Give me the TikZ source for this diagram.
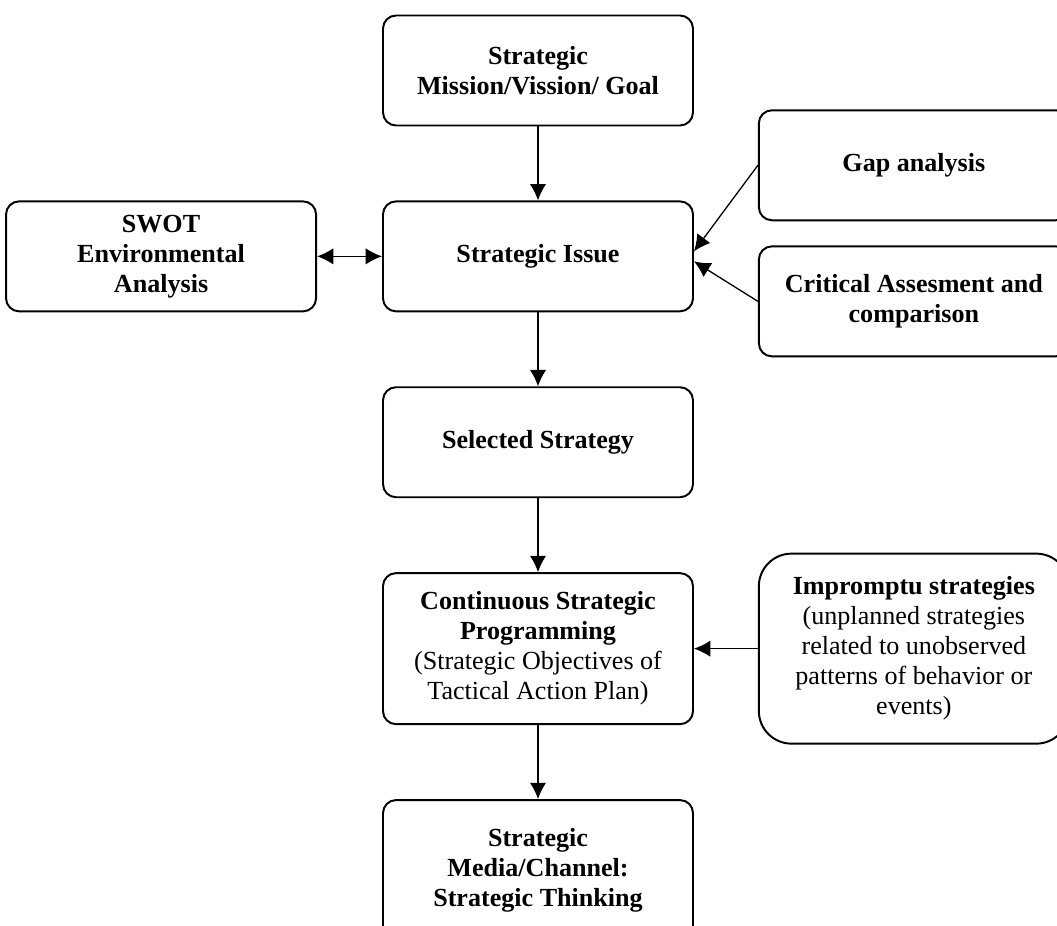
\documentclass[tikz,border=0pt]{standalone}
\usepackage{fontspec}
\setmainfont{Liberation Serif}
\usepackage{tikz}
\usetikzlibrary{arrows.meta,positioning}
\tikzset{
    block/.style = {draw, rectangle, rounded corners=6pt, line width=0.9pt, align=center, font=\fontsize{12}{13.8}\selectfont\bfseries, minimum width=142.6pt, minimum height=50.6pt},
    softblock/.style = {block, rounded corners=15pt, font=\fontsize{12}{13.8}\selectfont},
    arrow/.style = {draw, line width=0.6pt, -{Latex[length=7.5pt,width=7.5pt]}},
}

\begin{document}
\begin{tikzpicture}[x=0.46pt, y=0.46pt, node distance=34pt]
    \useasboundingbox (0,0) rectangle (1057,-926);
    \node [block] (mission) at (538,-70.5) {Strategic\\Mission/Vission/ Goal};
    \node [block, below=of mission] (issue) {Strategic Issue};
    \node [block, below=of issue] (selected) {Selected Strategy};
    \node [block, below=of selected, minimum height=69.5pt] (continuous) {Continuous Strategic\\Programming\\{\mdseries(Strategic Objectives of}\\{\mdseries Tactical Action Plan)}};
    \node [block, below=of continuous, minimum height=64.4pt] (media) {Strategic\\Media/Channel:\\Strategic Thinking};
    \node [block, left=29.9pt of issue] (swot) {SWOT\\Environmental\\Analysis};
    \node [block, right=29.4pt of issue, yshift=41.9pt] (gap) {Gap analysis};
    \node [block, right=29.4pt of issue, yshift=-20.7pt] (critical) {Critical Assesment and\\comparison};
    \node [softblock, right=29.4pt of continuous, minimum height=87.4pt] (impromptu) {\textbf{Impromptu strategies}\\(unplanned strategies\\related to unobserved\\patterns of behavior or\\events)};
    \draw [arrow] (mission) -- (issue);
    \draw [arrow] (issue) -- (selected);
    \draw [arrow] (selected) -- (continuous);
    \draw [arrow] (continuous) -- (media);
    \draw [arrow, {Latex[length=7.5pt,width=7.5pt]}-{Latex[length=7.5pt,width=7.5pt]}] (swot) -- (issue);
    \draw [arrow] (gap.west) -- ([yshift=2.3pt]issue.east);
    \draw [arrow] (critical.west) -- ([yshift=-2.3pt]issue.east);
    \draw [arrow] (impromptu) -- (continuous);
\end{tikzpicture}
\end{document}
